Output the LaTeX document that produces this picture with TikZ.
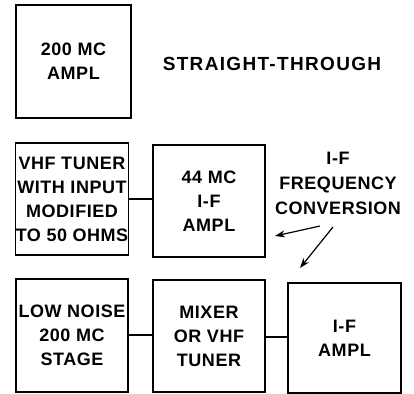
\documentclass[tikz,border=0pt]{standalone}
\usepackage{fontspec}
\setmainfont{Liberation Sans}
\usepackage{tikz}
\usetikzlibrary{arrows.meta}
\tikzset{
    blok/.style={draw, line width=1.4pt, minimum width=113pt, minimum height=113pt,
        inner sep=0pt, align=center, font=\fontsize{18}{24}\selectfont\bfseries\addfontfeature{LetterSpace=3}},
    caption/.style={align=center, font=\fontsize{19}{25}\selectfont\bfseries\addfontfeature{LetterSpace=7}},
    wire/.style={line width=1.4pt},
    pointer/.style={line width=1.2pt, -{Stealth[length=10pt, width=7pt]}}
}

\begin{document}
\begin{tikzpicture}[x=1pt, y=-1pt]
            \useasboundingbox (0,0) rectangle (414,393);

            % straight-through
            \node[blok, minimum width=115pt] (amp) at (73.5,61.5) {200 MC\\AMPL};
            \node[caption] (st) at (272,64) {STRAIGHT-THROUGH};

            % tuner + 44 mc i-f
            \node[blok, minimum height=112pt] (vhf) at (72,199) {VHF TUNER\\WITH INPUT\\MODIFIED\\TO 50 OHMS};
            \node[blok, minimum width=112pt, minimum height=112pt] (ifa) at (209,201) {44 MC\\I-F\\AMPL};
            \draw[wire] (vhf.east) -- (vhf.east -| ifa.west);

            % i-f frequency conversion
            \node[blok, minimum width=112pt] (low) at (72,335.5) {LOW NOISE\\200 MC\\STAGE};
            \node[blok, minimum width=112pt, minimum height=112pt] (mix) at (209,336) {MIXER\\OR VHF\\TUNER};
            \node[blok, minimum height=110pt] (ifb) at (344.5,338) {I-F\\AMPL};
            \draw[wire] (low.east |- 0,335) -- (mix.west |- 0,335);
            \draw[wire] (mix.east |- 0,337) -- (ifb.west |- 0,337);

            \node[caption, font=\fontsize{18}{25}\selectfont\bfseries\addfontfeature{LetterSpace=3}] (conv) at (338,183) {I-F\\FREQUENCY\\CONVERSION};
            \coordinate (p1) at (320,226);
            \coordinate (q1) at (275,236);
            \coordinate (p2) at (333,227);
            \coordinate (q2) at (300,268);
            \draw[pointer] (p1) -- (q1);
            \draw[pointer] (p2) -- (q2);
\end{tikzpicture}
\end{document}
